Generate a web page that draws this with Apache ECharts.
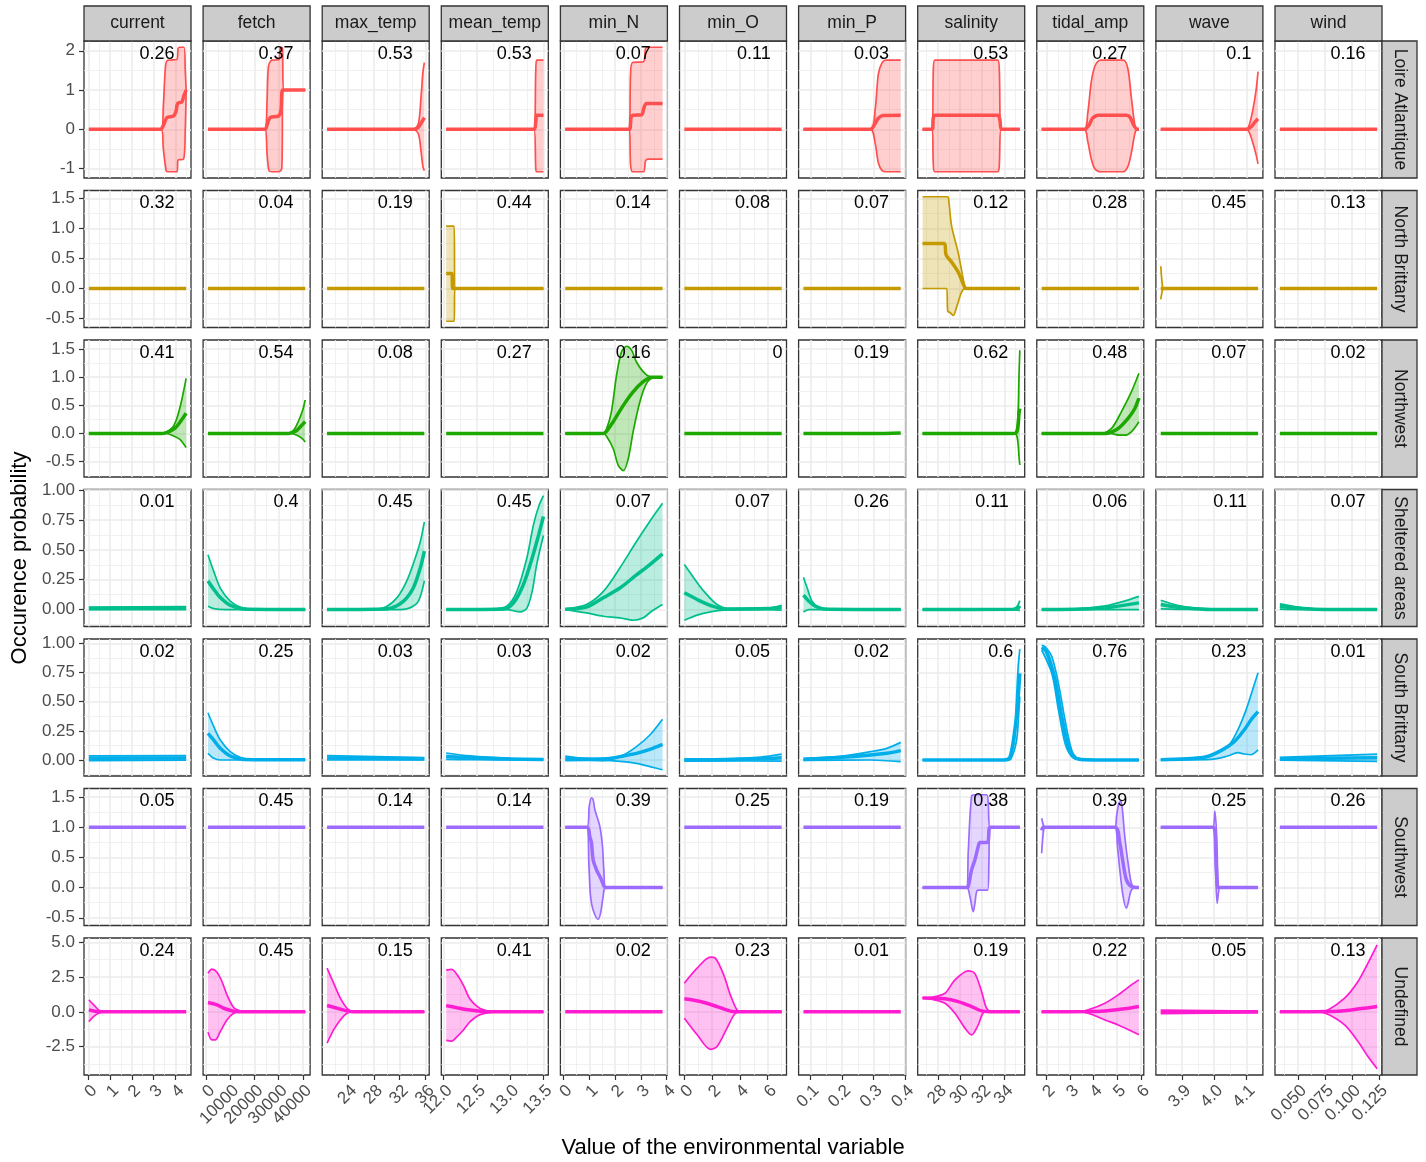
<!DOCTYPE html>
<html>
<head>
<meta charset="utf-8">
<script src="https://cdn.jsdelivr.net/npm/echarts@6/dist/echarts.min.js"></script>
<style>
  html, body { margin: 0; padding: 0; background: #fff; }
  #chart { width: 1426px; height: 1162px; }
</style>
</head>
<body>
<div id="chart"></div>
<script>
// facets
var variables = ['current', 'fetch', 'max_temp', 'mean_temp', 'min_N', 'min_O', 'min_P', 'salinity', 'tidal_amp', 'wave', 'wind'];
var regions = ['Loire Atlantique', 'North Brittany', 'Northwest', 'Sheltered areas', 'South Brittany', 'Southwest', 'Undefined'];
var regionColors = ['#FF4F4F', '#C49A00', '#1DA800', '#00BF8C', '#00AEEA', '#9D6CFF', '#FF1CD0'];

// data extent of each column (x) and row (y)
var xDomains = [[0.02, 4.5], [800, 41000], [20.75, 35.82], [12.04, 13.5], [0.07, 3.84], [0, 7.0],
  [0.078, 0.386], [26.63, 35.4], [1.8, 5.92], [3.834, 4.136], [0.0333, 0.1233]];
var yDomains = [[-1.08, 2.09], [-0.546, 1.529], [-0.662, 1.55], [-0.09, 0.954], [-0.084, 0.984], [-0.525, 1.541], [-4.09, 4.86]];

// tick values
var xTicks = [[0, 1, 2, 3, 4], [0, 10000, 20000, 30000, 40000], [24, 28, 32, 36], [12.0, 12.5, 13.0, 13.5],
  [0, 1, 2, 3, 4], [0, 2, 4, 6], [0.1, 0.2, 0.3, 0.4], [28, 30, 32, 34], [2, 3, 4, 5, 6], [3.9, 4.0, 4.1],
  [0.05, 0.075, 0.1, 0.125]];
var xDigits = [0, 0, 0, 1, 0, 0, 1, 0, 0, 1, 3];
var yTicks = [[-1, 0, 1, 2], [-0.5, 0, 0.5, 1, 1.5], [-0.5, 0, 0.5, 1, 1.5], [0, 0.25, 0.5, 0.75, 1],
  [0, 0.25, 0.5, 0.75, 1], [-0.5, 0, 0.5, 1, 1.5], [-2.5, 0, 2.5, 5]];
var yDigits = [0, 1, 1, 2, 2, 1, 1];

// numbers printed in each panel
var loireScores = ['0.26', '0.37', '0.53', '0.53', '0.07', '0.11', '0.03', '0.53', '0.27', '0.1', '0.16'];
var northBrittanyScores = ['0.32', '0.04', '0.19', '0.44', '0.14', '0.08', '0.07', '0.12', '0.28', '0.45', '0.13'];
var northwestScores = ['0.41', '0.54', '0.08', '0.27', '0.16', '0', '0.19', '0.62', '0.48', '0.07', '0.02'];
var shelteredScores = ['0.01', '0.4', '0.45', '0.45', '0.07', '0.07', '0.26', '0.11', '0.06', '0.11', '0.07'];
var southBrittanyScores = ['0.02', '0.25', '0.03', '0.03', '0.02', '0.05', '0.02', '0.6', '0.76', '0.23', '0.01'];
var southwestScores = ['0.05', '0.45', '0.14', '0.14', '0.39', '0.25', '0.19', '0.38', '0.39', '0.25', '0.26'];
var undefinedScores = ['0.24', '0.45', '0.15', '0.41', '0.02', '0.23', '0.01', '0.19', '0.22', '0.05', '0.13'];

// response curves: m = mean, u = upper bound, l = lower bound, [x, y]
var loireAtlantique = [
  { m: [[0.02,0],[3.31,0],[3.46,0.11],[3.62,0.30],[3.92,0.34],[4.03,0.45],[4.11,0.66],[4.31,0.70],[4.38,0.83],[4.5,1.0]],
    u: [[0.02,0],[3.36,0],[3.45,0.6],[3.55,1.6],[3.65,1.76],[4.08,1.78],[4.13,2.06],[4.2,2.09],[4.4,2.09],[4.46,1.5],[4.5,1.0]],
    l: [[0.02,0],[3.36,0],[3.45,-0.5],[3.58,-1.05],[3.65,-1.08],[4.08,-1.08],[4.13,-0.78],[4.38,-0.76],[4.46,0],[4.5,1.0]] },
  { m: [[800,0],[24400,0],[25200,0.11],[26500,0.30],[30000,0.34],[31000,0.5],[31700,1.0],[41000,1.0]],
    u: [[800,0],[24400,0],[25200,0.7],[25800,1.6],[27200,1.76],[30000,1.77],[30600,2.05],[31100,2.09],[31600,2.07],[32000,1.0],[41000,1.0]],
    l: [[800,0],[24400,0],[25200,-0.6],[26000,-1.05],[27200,-1.08],[30000,-1.08],[31300,-1.0],[31800,1.0],[41000,1.0]] },
  { m: [[20.75,0],[34.1,0],[34.9,0.05],[35.3,0.15],[35.82,0.3]],
    u: [[20.75,0],[34.1,0],[34.9,0.15],[35.3,0.8],[35.6,1.45],[35.82,1.7]],
    l: [[20.75,0],[34.1,0],[34.9,-0.12],[35.3,-0.55],[35.6,-0.95],[35.82,-1.05]] },
  { m: [[12.04,0],[13.36,0],[13.385,0.2],[13.40,0.36],[13.5,0.36]],
    u: [[12.04,0],[13.36,0],[13.385,1.5],[13.4,1.76],[13.5,1.76]],
    l: [[12.04,0],[13.36,0],[13.385,-1.0],[13.4,-1.08],[13.5,-1.08]] },
  { m: [[0.07,0],[2.55,0],[2.62,0.3],[2.7,0.36],[3.03,0.37],[3.12,0.55],[3.22,0.66],[3.84,0.66]],
    u: [[0.07,0],[2.55,0],[2.6,1.4],[2.68,1.7],[3.1,1.72],[3.18,2.05],[3.29,2.09],[3.84,2.09]],
    l: [[0.07,0],[2.55,0],[2.6,-0.9],[2.68,-1.08],[3.1,-1.08],[3.18,-0.8],[3.29,-0.76],[3.84,-0.76]] },
  { m: [[0,0],[7,0]] },
  { m: [[0.078,0],[0.29,0],[0.305,0.15],[0.315,0.28],[0.33,0.35],[0.386,0.36]],
    u: [[0.078,0],[0.29,0],[0.305,0.5],[0.315,1.4],[0.327,1.7],[0.34,1.76],[0.386,1.76]],
    l: [[0.078,0],[0.29,0],[0.305,-0.35],[0.315,-0.85],[0.327,-1.05],[0.34,-1.08],[0.386,-1.08]] },
  { m: [[26.63,0],[27.5,0],[27.6,0.3],[27.75,0.36],[33.4,0.36],[33.6,0.25],[33.75,0],[35.4,0]],
    u: [[26.63,0],[27.5,0],[27.6,1.5],[27.75,1.76],[33.4,1.76],[33.55,1.5],[33.7,0],[35.4,0]],
    l: [[26.63,0],[27.5,0],[27.6,-0.9],[27.75,-1.08],[33.4,-1.08],[33.55,-0.9],[33.7,0],[35.4,0]] },
  { m: [[1.8,0],[3.6,0],[3.8,0.1],[3.95,0.28],[4.2,0.36],[5.4,0.36],[5.55,0.3],[5.7,0.1],[5.85,0],[5.92,0]],
    u: [[1.8,0],[3.6,0],[3.75,0.4],[3.9,1.2],[4.05,1.6],[4.3,1.76],[5.25,1.76],[5.45,1.55],[5.6,0.8],[5.75,0.1],[5.85,0],[5.92,0]],
    l: [[1.8,0],[3.6,0],[3.75,-0.3],[3.9,-0.75],[4.05,-1.0],[4.3,-1.08],[5.25,-1.08],[5.45,-0.95],[5.6,-0.6],[5.75,-0.1],[5.85,0],[5.92,0]] },
  { m: [[3.834,0],[4.1,0],[4.115,0.07],[4.125,0.17],[4.136,0.27]],
    u: [[3.834,0],[4.1,0],[4.11,0.15],[4.12,0.5],[4.13,1.0],[4.136,1.47]],
    l: [[3.834,0],[4.1,0],[4.11,-0.1],[4.12,-0.35],[4.13,-0.65],[4.136,-0.88]] },
  { m: [[0.0333,0],[0.1233,0]] }
];

var northBrittany = [
  { m: [[0.02,0],[4.5,0]] },
  { m: [[800,0],[41000,0]] },
  { m: [[20.75,0],[35.82,0]] },
  { m: [[12.04,0.25],[12.125,0.25],[12.14,0],[13.5,0]],
    u: [[12.04,1.04],[12.16,1.04],[12.17,0],[13.5,0]],
    l: [[12.04,-0.546],[12.16,-0.546],[12.17,0],[13.5,0]] },
  { m: [[0.07,0],[3.84,0]] },
  { m: [[0,0],[7,0]] },
  { m: [[0.078,0],[0.386,0]] },
  { m: [[26.63,0.75],[28.6,0.75],[28.75,0.56],[29.25,0.44],[29.85,0.27],[30.45,0.01],[30.6,0],[35.4,0]],
    u: [[26.63,1.529],[28.9,1.529],[29.0,1.45],[29.25,1.04],[29.85,0.59],[30.45,0.02],[30.6,0],[35.4,0]],
    l: [[26.63,0],[28.8,0],[28.9,-0.38],[29.1,-0.4],[29.4,-0.45],[29.7,-0.31],[30.15,-0.06],[30.5,0],[35.4,0]] },
  { m: [[1.8,0],[5.92,0]] },
  { m: [[3.834,0],[4.136,0]],
    u: [[3.834,0.37],[3.84,0.02],[3.845,0],[4.136,0]],
    l: [[3.834,-0.18],[3.84,-0.02],[3.845,0],[4.136,0]] },
  { m: [[0.0333,0],[0.1233,0]] }
];

var northwest = [
  { m: [[0.02,0],[3.4,0],[3.7,0.03],[4.0,0.1],[4.25,0.22],[4.5,0.36]],
    u: [[0.02,0],[3.3,0],[3.6,0.03],[3.9,0.12],[4.1,0.3],[4.3,0.6],[4.5,0.98]],
    l: [[0.02,0],[3.6,0],[3.9,-0.04],[4.2,-0.1],[4.5,-0.25]] },
  { m: [[800,0],[34000,0],[37000,0.04],[39000,0.12],[41000,0.21]],
    u: [[800,0],[33000,0],[36000,0.05],[38000,0.2],[40000,0.42],[41000,0.6]],
    l: [[800,0],[35000,0],[38000,-0.04],[40000,-0.1],[41000,-0.15]] },
  { m: [[20.75,0],[35.82,0]] },
  { m: [[12.04,0],[13.5,0]] },
  { m: [[0.07,0],[1.54,0],[1.67,0.04],[1.93,0.21],[2.32,0.5],[2.7,0.74],[3.09,0.92],[3.42,1.0],[3.84,1.0]],
    u: [[0.07,0],[1.54,0],[1.67,0.08],[1.86,0.39],[2.06,1.04],[2.25,1.45],[2.45,1.55],[2.64,1.48],[2.83,1.27],[3.09,1.10],[3.35,1.01],[3.84,1.0]],
    l: [[0.07,0],[1.54,0],[1.67,-0.05],[1.93,-0.27],[2.12,-0.56],[2.32,-0.66],[2.51,-0.45],[2.7,0.03],[2.96,0.56],[3.22,0.89],[3.48,0.99],[3.84,1.0]] },
  { m: [[0,0],[7,0]] },
  { m: [[0.078,0],[0.3,0],[0.386,0.01]] },
  { m: [[26.63,0],[34.8,0],[35.1,0.02],[35.25,0.15],[35.32,0.35],[35.4,0.44]],
    u: [[26.63,0],[34.8,0],[35.1,0.05],[35.25,0.4],[35.32,1.0],[35.4,1.48]],
    l: [[26.63,0],[34.8,0],[35.1,-0.03],[35.25,-0.2],[35.32,-0.4],[35.4,-0.56]] },
  { m: [[1.8,0],[4.5,0],[5.04,0.09],[5.46,0.27],[5.74,0.44],[5.92,0.63]],
    u: [[1.8,0],[4.3,0],[4.76,0.09],[5.18,0.39],[5.6,0.74],[5.92,1.07]],
    l: [[1.8,0],[4.7,0],[5.1,-0.03],[5.32,-0.03],[5.6,0.03],[5.92,0.21]] },
  { m: [[3.834,0],[4.136,0]] },
  { m: [[0.0333,0],[0.1233,0]] }
];

var shelteredAreas = [
  { m: [[0.02,0.008],[4.5,0.012]], u: [[0.02,0.02],[4.5,0.025]], l: [[0.02,-0.002],[4.5,0]] },
  { m: [[800,0.24],[3200,0.17],[5900,0.1],[10000,0.036],[15500,0.005],[41000,0]],
    u: [[800,0.46],[3200,0.32],[5900,0.18],[10000,0.07],[14100,0.02],[19600,0.003],[41000,0]],
    l: [[800,0.028],[3200,0.008],[8000,0],[41000,0]] },
  { m: [[20.75,0],[28,0.002],[30.5,0.01],[32.6,0.07],[34.1,0.18],[35.2,0.35],[35.82,0.49]],
    u: [[20.75,0],[27,0.002],[29.5,0.014],[31.6,0.10],[33.1,0.24],[34.4,0.43],[35.2,0.57],[35.82,0.735]],
    l: [[20.75,0],[32.1,0],[33.6,0.014],[34.9,0.07],[35.82,0.24]] },
  { m: [[12.04,0],[12.9,0.005],[13.05,0.056],[13.2,0.21],[13.33,0.43],[13.43,0.63],[13.5,0.78]],
    u: [[12.04,0],[12.7,0.005],[12.95,0.028],[13.1,0.15],[13.25,0.43],[13.35,0.71],[13.43,0.866],[13.5,0.954]],
    l: [[12.04,0],[12.95,0],[13.15,-0.02],[13.25,0.01],[13.33,0.15],[13.4,0.38],[13.5,0.62]] },
  { m: [[0.07,0.002],[0.89,0.02],[1.54,0.098],[2.19,0.18],[2.83,0.29],[3.35,0.377],[3.84,0.467]],
    u: [[0.07,0.005],[0.89,0.042],[1.54,0.15],[2.19,0.35],[2.83,0.57],[3.35,0.74],[3.84,0.89]],
    l: [[0.07,0],[0.89,-0.028],[1.54,-0.056],[2.19,-0.07],[2.7,-0.09],[3.09,-0.07],[3.42,-0.014],[3.84,0.042]] },
  { m: [[0,0.14],[0.92,0.084],[1.88,0.034],[2.83,0.005],[6,0.008],[7,0.02]],
    u: [[0,0.377],[0.68,0.265],[1.4,0.154],[2.35,0.042],[3.31,0.005],[6,0.01],[7,0.035]],
    l: [[0,-0.09],[0.92,-0.047],[1.88,-0.02],[2.83,-0.005],[6,0],[7,-0.005]] },
  { m: [[0.078,0.12],[0.095,0.07],[0.116,0.028],[0.142,0.005],[0.386,0]],
    u: [[0.078,0.27],[0.09,0.18],[0.105,0.07],[0.126,0.02],[0.163,0.003],[0.386,0.002]],
    l: [[0.078,-0.02],[0.095,0],[0.386,0]] },
  { m: [[26.63,0],[34.8,0.002],[35.2,0.01],[35.4,0.03]],
    u: [[26.63,0],[34.6,0.002],[35.1,0.02],[35.4,0.075]],
    l: [[26.63,0],[35.0,0],[35.4,-0.01]] },
  { m: [[1.8,0],[3.5,0.005],[4.7,0.02],[5.92,0.056]],
    u: [[1.8,0],[3.3,0.005],[4.5,0.03],[5.3,0.07],[5.92,0.11]],
    l: [[1.8,0],[4.0,0],[5.92,0]] },
  { m: [[3.834,0.042],[3.886,0.02],[3.94,0.007],[4.0,0],[4.136,0]],
    u: [[3.834,0.078],[3.886,0.035],[3.94,0.012],[4.0,0.003],[4.136,0]],
    l: [[3.834,0.005],[3.886,0.002],[4.0,0],[4.136,0]] },
  { m: [[0.0333,0.028],[0.05,0.012],[0.065,0.003],[0.1233,0]],
    u: [[0.0333,0.047],[0.05,0.02],[0.065,0.005],[0.1233,0]],
    l: [[0.0333,0.003],[0.05,0],[0.1233,0]] }
];

var southBrittany = [
  { m: [[0.02,0.015],[4.5,0.018]], u: [[0.02,0.035],[4.5,0.038]], l: [[0.02,-0.005],[4.5,-0.002]] },
  { m: [[800,0.228],[3200,0.171],[5900,0.10],[10000,0.034],[15500,0.005],[41000,0.002]],
    u: [[800,0.405],[3200,0.286],[5900,0.171],[10000,0.071],[14100,0.023],[19600,0.003],[41000,0.002]],
    l: [[800,0.057],[3200,0.014],[5900,0],[41000,0]] },
  { m: [[20.75,0.018],[35.82,0.01]], u: [[20.75,0.037],[35.82,0.02]], l: [[20.75,0],[35.82,0]] },
  { m: [[12.04,0.03],[12.4,0.02],[13.0,0.008],[13.5,0.004]],
    u: [[12.04,0.06],[12.4,0.035],[13.0,0.015],[13.5,0.008]],
    l: [[12.04,0.005],[12.4,0.003],[13.5,0]] },
  { m: [[0.07,0.014],[1.54,0.003],[2.19,0.029],[2.83,0.057],[3.35,0.091],[3.84,0.134]],
    u: [[0.07,0.034],[0.89,0.014],[1.8,0.02],[2.32,0.043],[2.83,0.114],[3.35,0.214],[3.84,0.349]],
    l: [[0.07,-0.006],[1.54,-0.003],[2.32,-0.014],[2.83,-0.029],[3.35,-0.057],[3.84,-0.084]] },
  { m: [[0,0],[3,0.002],[5.5,0.01],[7,0.02]],
    u: [[0,0.01],[3,0.012],[5.5,0.025],[7,0.05]],
    l: [[0,-0.01],[3,-0.008],[7,-0.01]] },
  { m: [[0.078,0.005],[0.237,0.029],[0.342,0.057],[0.386,0.08]],
    u: [[0.078,0.014],[0.184,0.029],[0.289,0.071],[0.342,0.1],[0.386,0.151]],
    l: [[0.078,-0.003],[0.289,0],[0.386,-0.014]] },
  { m: [[26.63,0],[34.0,0],[34.5,0.02],[34.95,0.257],[35.25,0.543],[35.4,0.743]],
    u: [[26.63,0],[33.8,0],[34.5,0.03],[34.95,0.2],[35.11,0.543],[35.25,0.8],[35.4,0.951]],
    l: [[26.63,0],[34.2,0],[34.6,0.01],[35.11,0.171],[35.3,0.4],[35.4,0.543]] },
  { m: [[1.8,0.965],[2.0,0.93],[2.37,0.686],[2.65,0.371],[2.93,0.114],[3.21,0.02],[3.6,0.003],[5.92,0]],
    u: [[1.8,0.984],[1.95,0.971],[2.23,0.886],[2.51,0.657],[2.79,0.343],[3.07,0.086],[3.35,0.014],[4.05,0.002],[5.92,0]],
    l: [[1.8,0.943],[2.23,0.743],[2.51,0.43],[2.79,0.143],[3.07,0.029],[3.4,0.005],[5.92,0]] },
  { m: [[3.834,0.002],[3.969,0.023],[4.021,0.08],[4.062,0.157],[4.093,0.257],[4.114,0.343],[4.136,0.414]],
    u: [[3.834,0.002],[3.938,0.014],[3.99,0.043],[4.042,0.114],[4.073,0.257],[4.099,0.43],[4.119,0.60],[4.136,0.748]],
    l: [[3.834,0],[3.99,0.005],[4.042,0.034],[4.073,0.063],[4.093,0.051],[4.114,0.045],[4.136,0.086]] },
  { m: [[0.0333,0.01],[0.1233,0.02]], u: [[0.0333,0.023],[0.1233,0.051]], l: [[0.0333,-0.002],[0.1233,-0.012]] }
];

var southwest = [
  { m: [[0.02,1],[4.5,1]] },
  { m: [[800,1],[41000,1]] },
  { m: [[20.75,1],[35.82,1]] },
  { m: [[12.04,1],[13.5,1]] },
  { m: [[0.07,1],[0.92,1],[1.02,0.85],[1.086,0.74],[1.15,0.46],[1.28,0.295],[1.345,0.24],[1.474,0.128],[1.64,0],[3.84,0]],
    u: [[0.07,1],[0.92,1],[1.0,1.35],[1.086,1.49],[1.15,1.46],[1.216,1.295],[1.41,1.017],[1.513,0.684],[1.565,0.295],[1.64,0],[3.84,0]],
    l: [[0.07,1],[0.92,1],[0.983,0.406],[1.05,-0.15],[1.15,-0.37],[1.345,-0.525],[1.436,-0.427],[1.539,-0.15],[1.64,0],[3.84,0]] },
  { m: [[0,1],[7,1]] },
  { m: [[0.078,1],[0.386,1]] },
  { m: [[26.63,0],[30.6,0],[30.75,0.02],[31.05,0.295],[31.35,0.46],[31.65,0.684],[31.8,0.75],[32.4,0.75],[32.55,0.76],[32.7,1.0],[35.4,1.0]],
    u: [[26.63,0],[30.6,0],[30.75,0.6],[31.05,1.517],[31.35,1.541],[32.4,1.541],[32.55,1.40],[32.7,1.0],[35.4,1.0]],
    l: [[26.63,0],[30.6,0],[30.9,-0.15],[31.2,-0.4],[31.35,-0.26],[31.5,-0.066],[31.65,-0.04],[32.5,-0.04],[32.61,0.406],[32.7,1.0],[35.4,1.0]] },
  { m: [[1.8,0.95],[1.88,1.0],[4.9,1.0],[5.11,0.74],[5.25,0.406],[5.39,0.128],[5.6,0.017],[5.92,0]],
    u: [[1.8,1.15],[1.88,1.03],[1.95,1.0],[4.9,1.0],[4.97,1.18],[5.07,1.40],[5.15,1.43],[5.22,1.295],[5.32,0.85],[5.46,0.406],[5.6,0.073],[5.74,0],[5.92,0]],
    l: [[1.8,0.57],[1.88,0.95],[1.95,1.0],[4.9,1.0],[5.01,0.684],[5.11,0.295],[5.25,-0.15],[5.39,-0.34],[5.46,-0.26],[5.6,-0.04],[5.81,0],[5.92,0]] },
  { m: [[3.834,1],[3.998,1],[4.005,0.5],[4.01,0.03],[4.014,0],[4.136,0]],
    u: [[3.834,1],[3.995,1],[4.002,1.27],[4.008,0.8],[4.012,0.02],[4.016,0],[4.136,0]],
    l: [[3.834,1],[3.998,1],[4.004,0.3],[4.009,-0.26],[4.014,-0.05],[4.017,0],[4.136,0]] },
  { m: [[0.0333,1],[0.1233,1]] }
];

var undefinedRegion = [
  { m: [[0.02,0.14],[0.35,0.03],[0.6,0],[4.5,0]],
    u: [[0.02,0.86],[0.245,0.5],[0.47,0.14],[0.7,0],[4.5,0]],
    l: [[0.02,-0.7],[0.245,-0.33],[0.47,-0.1],[0.7,0],[4.5,0]] },
  { m: [[800,0.67],[4520,0.5],[7270,0.26],[11400,0.05],[15500,0],[41000,0]],
    u: [[800,2.78],[2460,3.07],[4520,2.85],[6590,2.18],[8650,1.22],[11400,0.31],[14140,0.07],[16900,0],[41000,0]],
    l: [[800,-1.46],[2460,-2.01],[3840,-2.01],[5900,-1.41],[8650,-0.58],[11400,-0.1],[14140,0],[41000,0]] },
  { m: [[20.75,0.46],[22.29,0.26],[23.84,0.07],[24.87,0],[35.82,0]],
    u: [[20.75,3.14],[21.77,2.06],[22.81,0.98],[23.84,0.26],[24.87,0],[35.82,0]],
    l: [[20.75,-2.25],[21.77,-1.29],[22.81,-0.58],[23.84,-0.1],[24.87,0],[35.82,0]] },
  { m: [[12.04,0.45],[12.2,0.3],[12.4,0.13],[12.6,0.03],[12.75,0],[13.5,0]],
    u: [[12.04,3.0],[12.12,3.05],[12.2,2.7],[12.3,1.9],[12.4,0.9],[12.55,0.25],[12.75,0.02],[13.5,0]],
    l: [[12.04,-2.05],[12.12,-2.1],[12.2,-1.8],[12.3,-1.3],[12.4,-0.7],[12.55,-0.2],[12.75,-0.02],[13.5,0]] },
  { m: [[0.07,0],[3.84,0]] },
  { m: [[0,0.94],[1.16,0.74],[2.35,0.38],[3.31,0.05],[3.79,0],[7,0]],
    u: [[0,2.06],[0.92,3.14],[1.88,3.93],[2.23,3.86],[2.83,2.66],[3.31,1.22],[3.79,0.14],[4.2,0],[7,0]],
    l: [[0,-0.46],[0.92,-1.65],[1.88,-2.69],[2.35,-2.49],[3.07,-1.17],[3.67,-0.1],[4.2,0],[7,0]] },
  { m: [[0.078,0],[0.386,0]] },
  { m: [[26.63,1.0],[28.65,0.94],[29.85,0.74],[31.05,0.38],[31.95,0.07],[33.15,0],[35.4,0]],
    u: [[26.63,1.0],[27.5,1.05],[28.65,1.34],[29.55,2.3],[30.75,2.95],[31.35,2.75],[31.95,1.46],[32.4,0.26],[32.85,0],[35.4,0]],
    l: [[26.63,1.0],[27.5,0.9],[28.65,0.62],[29.55,-0.1],[30.45,-1.17],[31.05,-1.65],[31.65,-0.94],[32.25,0],[35.4,0]] },
  { m: [[1.8,0],[3.77,0.02],[4.48,0.07],[5.32,0.22],[5.92,0.38]],
    u: [[1.8,0],[3.35,0],[3.77,0.14],[4.48,0.62],[5.04,1.22],[5.6,1.94],[5.92,2.3]],
    l: [[1.8,0],[3.35,0],[3.77,-0.1],[4.48,-0.58],[5.04,-0.94],[5.6,-1.37],[5.92,-1.65]] },
  { m: [[3.834,0],[4.136,0]], u: [[3.834,0.12],[4.136,0.05]], l: [[3.834,-0.12],[4.136,-0.05]] },
  { m: [[0.0333,0],[0.0778,0.02],[0.0994,0.14],[0.1233,0.38]],
    u: [[0.0333,0],[0.068,0],[0.0778,0.14],[0.0932,0.98],[0.1056,2.18],[0.1148,3.5],[0.1233,4.82]],
    l: [[0.0333,0],[0.068,0],[0.0778,-0.17],[0.0932,-0.94],[0.1056,-2.13],[0.1148,-3.21],[0.1233,-4.09]] }
];

var regionRows = [loireAtlantique, northBrittany, northwest, shelteredAreas, southBrittany, southwest, undefinedRegion];
var regionScores = [loireScores, northBrittanyScores, northwestScores, shelteredScores, southBrittanyScores, southwestScores, undefinedScores];

// layout (pixels)
var PANEL_X = 84, PANEL_Y = 41, PANEL_W = 107, PANEL_H = 137, COL_STEP = 119.1, ROW_STEP = 149.5;
var STRIP = 35;
var FONT = '"Liberation Sans", Arial, Helvetica, sans-serif';

function expand(d) {
  var s = (d[1] - d[0]) * 0.05;
  return [d[0] - s, d[1] + s];
}
function minorBreaks(ticks, lim) {
  var step = ticks[1] - ticks[0], out = [], pad = (lim[1] - lim[0]) * 0.01;
  for (var i = -1; i < ticks.length; i++) {
    var v = i < 0 ? ticks[0] - step / 2 : ticks[i] + step / 2;
    if (v > lim[0] + pad && v < lim[1] - pad) out.push(+v.toFixed(6));
  }
  return out;
}
function rgba(hex, a) {
  var n = parseInt(hex.slice(1), 16);
  return 'rgba(' + (n >> 16) + ',' + ((n >> 8) & 255) + ',' + (n & 255) + ',' + a + ')';
}
// label formatter; values that are not real ticks (edge guards) print nothing
function tickText(ticks, d) {
  return function (v) {
    for (var i = 0; i < ticks.length; i++) {
      if (Math.abs(ticks[i] - v) < 1e-9 * Math.max(1, Math.abs(v))) return ticks[i].toFixed(d);
    }
    return '';
  };
}
// empty guard labels at both ends so echarts' min/max-label overlap check never drops a real label
function guarded(ticks, lim) {
  var eps = (lim[1] - lim[0]) * 1e-4;
  return [lim[0] + eps].concat(ticks, [lim[1] - eps]);
}
var measure = document.createElement('canvas').getContext('2d');
measure.font = '18px ' + FONT;

var grids = [], xAxes = [], yAxes = [], series = [], graphics = [];
var lastRow = regionRows.length - 1;

regionRows.forEach(function (row, r) {
  var ylim = expand(yDomains[r]);
  var color = regionColors[r];
  row.forEach(function (p, c) {
    var k = r * variables.length + c;
    var xlim = expand(xDomains[c]);
    var left = PANEL_X + c * COL_STEP, top = PANEL_Y + r * ROW_STEP;
    grids.push({ left: left, top: top, width: PANEL_W, height: PANEL_H, show: true,
      backgroundColor: '#fff', borderColor: '#333', borderWidth: 1.3 });

    // major + minor x axes
    xAxes.push({ type: 'value', gridIndex: k, min: xlim[0], max: xlim[1], position: 'bottom',
      axisLine: { show: false, onZero: false },
      axisTick: { show: r === lastRow, length: 5, lineStyle: { color: '#333', width: 1.2 }, customValues: xTicks[c] },
      axisLabel: { show: r === lastRow, customValues: guarded(xTicks[c], xlim), rotate: 45, margin: 7,
        align: 'right', verticalAlign: 'top',
        hideOverlap: false, showMinLabel: false, showMaxLabel: false,
        color: '#4D4D4D', fontSize: 17, fontFamily: FONT, formatter: tickText(xTicks[c], xDigits[c]) },
      splitLine: { show: true, lineStyle: { color: '#EBEBEB', width: 1.5 } } });
    xAxes.push({ type: 'value', gridIndex: k, min: xlim[0], max: xlim[1], position: 'top',
      axisLine: { show: false, onZero: false }, axisLabel: { show: false },
      axisTick: { show: false, customValues: minorBreaks(xTicks[c], xlim) },
      splitLine: { show: true, lineStyle: { color: '#EEEEEE', width: 0.8 } } });

    // major + minor y axes
    yAxes.push({ type: 'value', gridIndex: k, min: ylim[0], max: ylim[1], position: 'left',
      axisLine: { show: false, onZero: false },
      axisTick: { show: c === 0, length: 5, lineStyle: { color: '#333', width: 1.2 }, customValues: yTicks[r] },
      axisLabel: { show: c === 0, customValues: guarded(yTicks[r], ylim), margin: 9,
        hideOverlap: false, showMinLabel: false, showMaxLabel: false,
        color: '#4D4D4D', fontSize: 17, fontFamily: FONT, formatter: tickText(yTicks[r], yDigits[r]) },
      splitLine: { show: true, lineStyle: { color: '#EBEBEB', width: 1.5 } } });
    yAxes.push({ type: 'value', gridIndex: k, min: ylim[0], max: ylim[1], position: 'right',
      axisLine: { show: false, onZero: false }, axisLabel: { show: false },
      axisTick: { show: false, customValues: minorBreaks(yTicks[r], ylim) },
      splitLine: { show: true, lineStyle: { color: '#EEEEEE', width: 0.8 } } });

    var ax = { xAxisIndex: 2 * k, yAxisIndex: 2 * k };

    if (p.u && p.l) {
      series.push(Object.assign({
        type: 'custom', clip: true, silent: true, z: 2,
        data: [[p.u[0][0], p.u[0][1]]],
        encode: { x: 0, y: 1 },
        renderItem: (function (up, lo, fill) {
          return function (params, api) {
            var pts = up.map(function (d) { return api.coord(d); })
              .concat(lo.slice().reverse().map(function (d) { return api.coord(d); }));
            return { type: 'polygon', shape: { points: pts }, style: { fill: fill, stroke: null } };
          };
        })(p.u, p.l, rgba(color, 0.28))
      }, ax));
      [p.u, p.l].forEach(function (line) {
        series.push(Object.assign({ type: 'line', data: line, symbol: 'none', smooth: 0.3, silent: true, z: 3,
          lineStyle: { color: color, width: 1.7 } }, ax));
      });
    }
    series.push(Object.assign({ type: 'line', data: p.m, symbol: 'none', smooth: 0.3, silent: true, z: 4,
      lineStyle: { color: color, width: 3.5 } }, ax));

    // panel number
    var txt = regionScores[r][c];
    var w = measure.measureText(txt).width;
    graphics.push({ type: 'text', x: left + PANEL_W + 1 - w, y: top + 13, z: 50, silent: true,
      style: { text: txt, fill: '#000', font: '18px ' + FONT, align: 'center', verticalAlign: 'middle' } });
  });
});

// column strips
variables.forEach(function (name, c) {
  var left = PANEL_X + c * COL_STEP;
  graphics.push({ type: 'rect', z: 40, silent: true,
    shape: { x: left, y: PANEL_Y - STRIP, width: PANEL_W, height: STRIP },
    style: { fill: '#CCCCCC', stroke: '#333', lineWidth: 1.3 } });
  graphics.push({ type: 'text', x: left + PANEL_W / 2, y: PANEL_Y - STRIP / 2, z: 41, silent: true,
    style: { text: name, fill: '#1A1A1A', font: '17.5px ' + FONT, align: 'center', verticalAlign: 'middle' } });
});
// row strips
var stripX = PANEL_X + (variables.length - 1) * COL_STEP + PANEL_W;
regions.forEach(function (name, r) {
  var top = PANEL_Y + r * ROW_STEP;
  graphics.push({ type: 'rect', z: 40, silent: true,
    shape: { x: stripX, y: top, width: STRIP, height: PANEL_H },
    style: { fill: '#CCCCCC', stroke: '#333', lineWidth: 1.3 } });
  graphics.push({ type: 'text', x: stripX + STRIP / 2, y: top + PANEL_H / 2, rotation: -Math.PI / 2, z: 41, silent: true,
    style: { text: name, fill: '#1A1A1A', font: '17.5px ' + FONT, align: 'center', verticalAlign: 'middle' } });
});
// axis titles
graphics.push({ type: 'text', x: 733, y: 1148, z: 41, silent: true,
  style: { text: 'Value of the environmental variable', fill: '#000', font: '22px ' + FONT, align: 'center', verticalAlign: 'middle' } });
graphics.push({ type: 'text', x: 20, y: 558, rotation: Math.PI / 2, z: 41, silent: true,
  style: { text: 'Occurence probability', fill: '#000', font: '22px ' + FONT, align: 'center', verticalAlign: 'middle' } });

var chart = echarts.init(document.getElementById('chart'), null, { renderer: 'canvas' });
chart.setOption({
  animation: false,
  backgroundColor: '#fff',
  grid: grids,
  xAxis: xAxes,
  yAxis: yAxes,
  series: series,
  graphic: { elements: graphics }
});
</script>
</body>
</html>
